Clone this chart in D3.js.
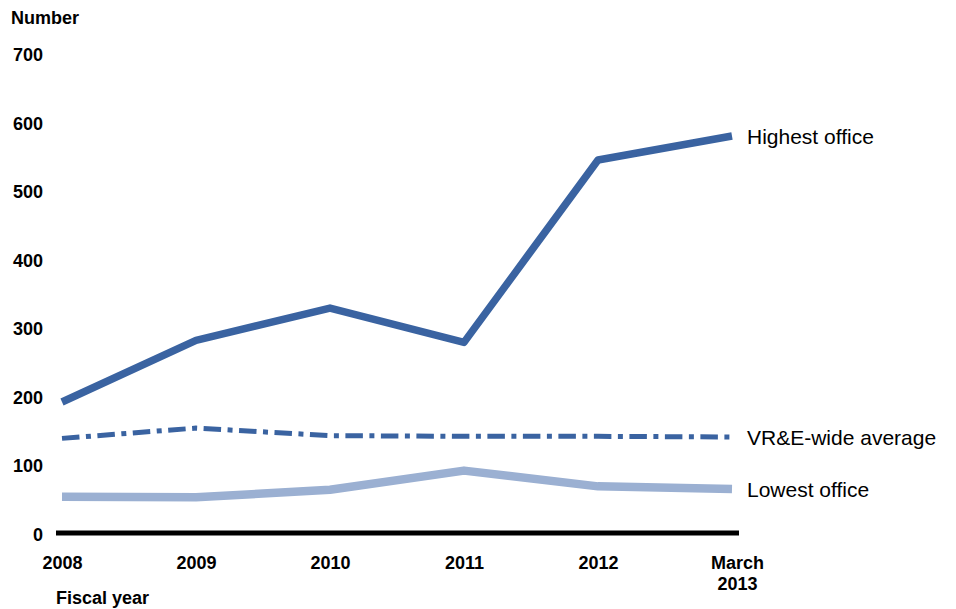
<!DOCTYPE html>
<html>
<head>
<meta charset="utf-8">
<script src="https://cdn.jsdelivr.net/npm/d3@7"></script>
<style>
  body { margin: 0; background: #fff; }
  text { font-family: "Liberation Sans", Arial, sans-serif; fill: #000; }
</style>
</head>
<body>
<div id="chart-area"></div>
<script>
// chart data
const years = ["2008", "2009", "2010", "2011", "2012", "March 2013"]
const highest = [191, 281, 328, 278, 544, 579]
const average = [138, 153, 142, 141, 141, 140]
const lowest = [53, 52, 63, 91, 68, 64]
const yTicks = [0, 100, 200, 300, 400, 500, 600, 700]

const series = [
    {name: "Highest office", values: highest, color: "#3A63A1", width: 7.5, dash: null},
    {name: "VR&E-wide average", values: average, color: "#3A63A1", width: 5, dash: "17.5,6.5,5,6.5"},
    {name: "Lowest office", values: lowest, color: "#9BB0D2", width: 8.5, dash: null}
]

const W = 956, H = 609

const svg = d3.select("#chart-area").append("svg")
    .attr("width", W)
    .attr("height", H)

// x: points for each fiscal year
const x = d3.scalePoint()
    .domain(years)
    .range([62, 732])

// y: 0 sits on the axis line
const y = d3.scaleLinear()
    .domain([0, 700])
    .range([533, 53])

// --- y tick labels (no axis line, bold)
const yAxisCall = d3.axisLeft(y)
    .tickValues(yTicks)
    .tickSize(0)
    .tickPadding(0)
svg.append("g")
    .attr("class", "yaxis")
    .attr("transform", "translate(43, 0)")
    .call(yAxisCall)
    .call(g => g.select(".domain").remove())
    .selectAll("text")
    .attr("font-size", "18px")
    .attr("font-weight", "bold")
    .attr("font-family", "Liberation Sans, Arial, sans-serif")
    .attr("dy", "0.42em")

// --- lines
const line = d3.line()
    .x((d, i) => x(years[i]))
    .y(d => y(d))

svg.selectAll(".series")
    .data(series)
    .enter()
    .append("path")
    .attr("class", "series")
    .attr("d", d => line(d.values))
    .attr("fill", "none")
    .attr("stroke", d => d.color)
    .attr("stroke-width", d => d.width)
    .attr("stroke-dasharray", d => d.dash)
    .attr("stroke-linejoin", "round")

// --- x axis: thick black baseline
const xAxisCall = d3.axisBottom(x)
    .tickSize(0)
    .tickPadding(0)
const xg = svg.append("g")
    .attr("class", "xaxis")
    .attr("transform", `translate(0, ${y(0)})`)
    .call(xAxisCall)
xg.select(".domain")
    .attr("d", "M56,0H739")
    .attr("stroke", "#000")
    .attr("stroke-width", 5)
xg.selectAll("text")
    .attr("font-size", "18px")
    .attr("font-weight", "bold")
    .attr("font-family", "Liberation Sans, Arial, sans-serif")
    .attr("y", 36)
    .attr("dy", 0)
    .each(function(d) {
        const t = d3.select(this)
        const words = d.split(" ")
        if (words.length > 1) {
            // two-line label, nudged right like the original
            t.text(null).attr("transform", "translate(5, 0)")
            words.forEach((w, i) => {
                t.append("tspan")
                    .attr("x", 0)
                    .attr("y", 36 + i * 21)
                    .text(w)
            })
        }
    })

// --- series labels at the right end
svg.selectAll(".series-label")
    .data(series)
    .enter()
    .append("text")
    .attr("class", "series-label")
    .attr("x", 747)
    .attr("y", d => y(d.values[d.values.length - 1]))
    .attr("dy", "0.36em")
    .attr("font-size", "21px")
    .text(d => d.name)

// --- axis titles
svg.append("text")
    .attr("x", 11)
    .attr("y", 24)
    .attr("font-size", "18px")
    .attr("font-weight", "bold")
    .text("Number")

svg.append("text")
    .attr("x", 56)
    .attr("y", 604)
    .attr("font-size", "18px")
    .attr("font-weight", "bold")
    .text("Fiscal year")
</script>
</body>
</html>
